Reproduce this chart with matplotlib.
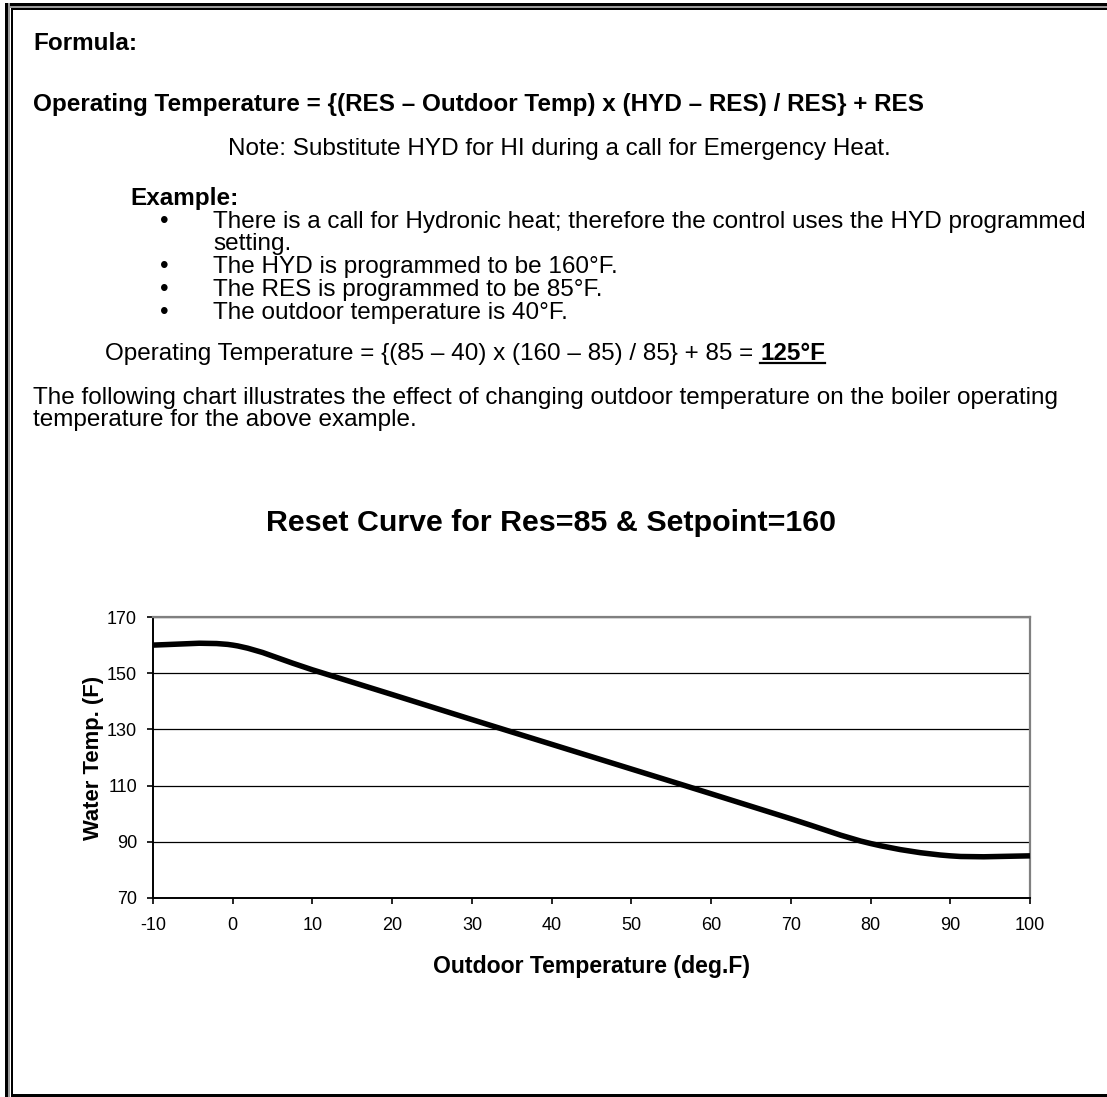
import matplotlib
matplotlib.use("Agg")
import matplotlib.pyplot as plt
from matplotlib.path import Path
from matplotlib.patches import PathPatch, Rectangle

# ---- chart data -------------------------------------------------------
outdoor_temp = [-10, 0, 10, 20, 30, 40, 50, 60, 70, 80, 90, 100]
water_temp = [160, 160, 151.2, 142.4, 133.5, 124.7, 115.9, 107.1, 98.2, 89.4, 85, 85]
x_ticks = [-10, 0, 10, 20, 30, 40, 50, 60, 70, 80, 90, 100]
y_ticks = [70, 90, 110, 130, 150, 170]

chart_title = "Reset Curve for Res=85 & Setpoint=160"
x_label = "Outdoor Temperature (deg.F)"
y_label = "Water Temp. (F)"

bullets = [
    ["There is a call for Hydronic heat; therefore the control uses the HYD programmed",
     "setting."],
    ["The HYD is programmed to be 160°F."],
    ["The RES is programmed to be 85°F."],
    ["The outdoor temperature is 40°F."],
]

# ---- page setup -------------------------------------------------------
W, H = 1107, 1097
DPI = 100
plt.rcParams['font.family'] = ['Liberation Sans', 'DejaVu Sans']
fig = plt.figure(figsize=(W / DPI, H / DPI), dpi=DPI)
fig.patch.set_facecolor('white')


def pt(px_size):
    return px_size * 72.0 / DPI


def fx(x):
    return x / W


def fy(y):
    return 1 - y / H


BODY = pt(24.3)


def put(x, y, s, bold=False, size=BODY, **kw):
    return fig.text(fx(x), fy(y), s, fontsize=size,
                    fontweight='bold' if bold else 'normal',
                    va='baseline', ha=kw.pop('ha', 'left'), **kw)


# ---- page border (thick-thin double rule) --------------------------------
def frect(x0, y0, x1, y1, color):
    fig.patches.append(Rectangle((fx(x0), fy(y1)), (x1 - x0) / W, (y1 - y0) / H,
                                 transform=fig.transFigure, facecolor=color,
                                 edgecolor='none', zorder=5))

frect(5, 3, W, 6, 'black')
frect(5, 6, W, 8, '#9a9a9a')
frect(11, 8, W, 10, 'black')
frect(5, 3, 8, H, 'black')
frect(8, 3, 10, H, '#9a9a9a')
frect(11, 8, 13, H, 'black')
frect(11, 1094, W, H, 'black')

# ---- text block ---------------------------------------------------------
put(33, 50, "Formula:", bold=True)
put(33, 111, "Operating Temperature = {(RES \u2013 Outdoor Temp) x (HYD \u2013 RES) / RES} + RES",
    bold=True)
put(228, 155, "Note: Substitute HYD for HI during a call for Emergency Heat.")
put(130, 205, "Example:", bold=True)

line_y = [228, 250, 273, 296, 319]
k = 0
for item in bullets:
    put(160, line_y[k], "\u2022")
    for ln in item:
        put(213, line_y[k], ln)
        k += 1

fig.canvas.draw()
renderer = fig.canvas.get_renderer()
t1 = put(105, 360, "Operating Temperature = {(85 \u2013 40) x (160 \u2013 85) / 85} + 85 = ")
bb = t1.get_window_extent(renderer)
t2 = fig.text(bb.x1 / W, fy(360), "125°F", fontsize=BODY, fontweight='bold',
              va='baseline', ha='left')
bb2 = t2.get_window_extent(renderer)
fig.lines.append(plt.Line2D([bb2.x0 / W, bb2.x1 / W], [fy(363), fy(363)],
                            transform=fig.transFigure, color='black', lw=1.6))

put(33, 404, "The following chart illustrates the effect of changing outdoor temperature on the boiler operating")
put(33, 426, "temperature for the above example.")

# ---- chart --------------------------------------------------------------
fig.text(fx(551), fy(531), chart_title, fontsize=pt(30.4), fontweight='bold',
         ha='center', va='baseline')

ax = fig.add_axes([fx(153), fy(898), (1030 - 153) / W, (898 - 617) / H])
ax.set_xlim(-10, 100)
ax.set_ylim(70, 170)
ax.set_xticks(x_ticks)
ax.set_yticks(y_ticks)
ax.set_xticklabels([str(v) for v in x_ticks])
ax.set_yticklabels([str(v) for v in y_ticks])
ax.tick_params(direction='out', length=pt(6), width=1.2, labelsize=pt(18),
               colors='black')
ax.tick_params(axis='x', pad=pt(13))
ax.tick_params(axis='y', pad=pt(10))
ax.yaxis.grid(True, color='black', lw=0.9)
ax.set_axisbelow(True)
for side in ('left', 'bottom'):
    ax.spines[side].set_color('black')
    ax.spines[side].set_linewidth(1.4)
for side in ('top', 'right'):
    ax.spines[side].set_color('#808080')
    ax.spines[side].set_linewidth(1.6)

# smoothed line through the data points (cubic Bezier segments)
n = len(outdoor_temp)
verts = [(outdoor_temp[0], water_temp[0])]
codes = [Path.MOVETO]
for i in range(n - 1):
    p0 = (outdoor_temp[max(i - 1, 0)], water_temp[max(i - 1, 0)])
    p1 = (outdoor_temp[i], water_temp[i])
    p2 = (outdoor_temp[i + 1], water_temp[i + 1])
    p3 = (outdoor_temp[min(i + 2, n - 1)], water_temp[min(i + 2, n - 1)])
    c1 = (p1[0] + (p2[0] - p0[0]) / 6, p1[1] + (p2[1] - p0[1]) / 6)
    c2 = (p2[0] - (p3[0] - p1[0]) / 6, p2[1] - (p3[1] - p1[1]) / 6)
    verts += [c1, c2, p2]
    codes += [Path.CURVE4] * 3
ax.add_patch(PathPatch(Path(verts, codes), facecolor='none', edgecolor='black',
                       lw=pt(5.5), capstyle='butt', joinstyle='round', zorder=3,
                       clip_on=False))

ax.set_xlabel(x_label, fontsize=pt(23), fontweight='bold', va='center')
ax.xaxis.set_label_coords(0.5, (898 - 966) / 281)
ax.set_ylabel(y_label, fontsize=pt(22), fontweight='bold', va='center')
ax.yaxis.set_label_coords((93 - 153) / 877, 0.5)

fig.savefig("out.png", dpi=DPI, facecolor='white')
